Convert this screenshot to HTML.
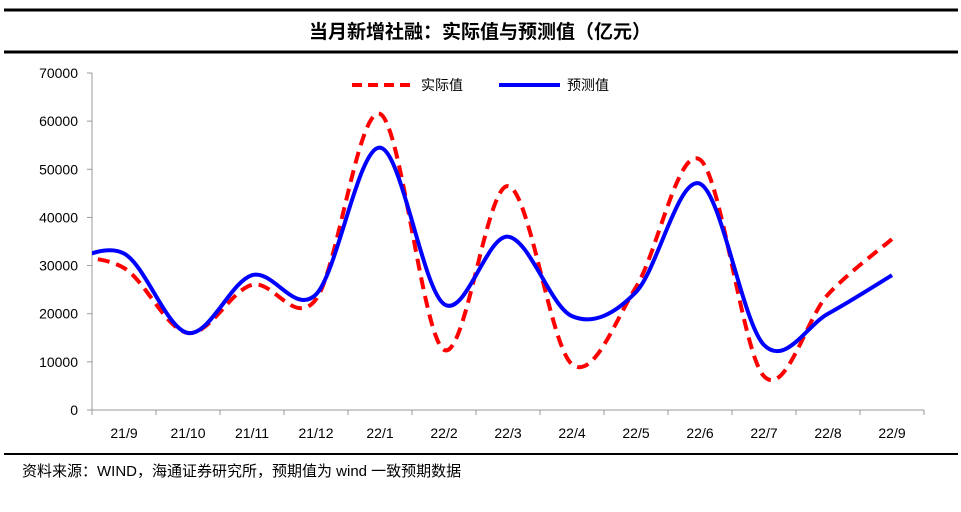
<!DOCTYPE html>
<html><head><meta charset="utf-8"><style>
body{margin:0;background:#fff}
svg{display:block;font-family:"Liberation Sans","Noto Sans CJK SC",sans-serif}
</style></head><body>
<svg id="c" width="961" height="512">
<defs><clipPath id="plot"><rect x="92" y="40" width="840" height="380"/></clipPath></defs>
<line x1="4" y1="10" x2="958" y2="10" stroke="#000" stroke-width="3"/>
<line x1="4" y1="52" x2="958" y2="52" stroke="#000" stroke-width="3"/>
<text x="480" y="38" text-anchor="middle" font-size="19" font-weight="bold">当月新增社融：实际值与预测值（亿元）</text>
<line x1="4" y1="454" x2="958" y2="454" stroke="#000" stroke-width="2"/>
<text x="22" y="476" font-size="15">资料来源：WIND，海通证券研究所，预期值为 wind 一致预期数据</text>
<g id="axes"></g>
<g id="lines" clip-path="url(#plot)"></g>
<g>
<line x1="352" y1="85" x2="413" y2="85" stroke="#f00" stroke-width="4" stroke-dasharray="10,6"/>
<text x="421" y="90" font-size="14">实际值</text>
<line x1="499" y1="85" x2="560" y2="85" stroke="#00f" stroke-width="4"/>
<text x="567" y="90" font-size="14">预测值</text>
</g>
</svg>
<script>
const categories=["21/9","21/10","21/11","21/12","22/1","22/2","22/3","22/4","22/5","22/6","22/7","22/8","22/9"];
const actual=[29500,16000,26000,23000,61500,12500,46500,9500,25500,52000,7000,24000,35500];
const forecast=[32500,16000,28000,24000,54500,22000,36000,19500,24500,47000,13500,20000,28000];
const priorActual=[32000];
const priorForecast=[30000];
const yTicks=[0,10000,20000,30000,40000,50000,60000,70000];
const X0=92,X1=924,Y0=410,Y1=73,YMAX=70000;
const step=(X1-X0)/categories.length;
const x=i=>X0+step*(i+0.5);
const y=v=>Y0-(v/YMAX)*(Y0-Y1);
const NS="http://www.w3.org/2000/svg";
const ax=document.getElementById('axes'),lg=document.getElementById('lines');
function mk(t,a,p){const e=document.createElementNS(NS,t);for(const k in a)e.setAttribute(k,a[k]);p.appendChild(e);return e;}
let e=mk('line',{x1:X0,y1:Y1,x2:X0,y2:Y0,stroke:'#999','stroke-width':1},ax);


e=mk('line',{x1:X0,y1:Y0,x2:X1,y2:Y0,stroke:'#999','stroke-width':1},ax);


yTicks.forEach(v=>{
 mk('line',{x1:X0-5,y1:y(v),x2:X0,y2:y(v),stroke:'#999'},ax);
 const t=mk('text',{x:X0-14,y:y(v)+5,'text-anchor':'end','font-size':14},ax);t.textContent=v;
 
 
});
for(let i=0;i<=categories.length;i++)mk('line',{x1:X0+step*i,y1:Y0,x2:X0+step*i,y2:Y0+5,stroke:'#999'},ax);
categories.forEach((c,i)=>{
 const t=mk('text',{x:x(i),y:438,'text-anchor':'middle','font-size':14},ax);t.textContent=c;
 
 
});
function path(prior,vals){
 const all=prior.concat(vals);
 const p=all.map((v,i)=>[x(i-prior.length),y(v)]);
 let d=`M${p[0][0]},${p[0][1]}`;
 for(let i=0;i<p.length-1;i++){
  const a=p[i-1]||p[i],b=p[i],c=p[i+1],n=p[i+2]||c;
  const c1=[b[0]+(c[0]-a[0])/6,b[1]+(c[1]-a[1])/6],c2=[c[0]-(n[0]-b[0])/6,c[1]-(n[1]-b[1])/6];
  d+=` C${c1[0]},${c1[1]} ${c2[0]},${c2[1]} ${c[0]},${c[1]}`;
 }
 return d;
}
e=mk('path',{d:path(priorActual,actual),fill:'none',stroke:'#f00','stroke-width':4,'stroke-dasharray':'12,7'},lg);


e=mk('path',{d:path(priorForecast,forecast),fill:'none',stroke:'#00f','stroke-width':4},lg);


</script>
</body></html>
